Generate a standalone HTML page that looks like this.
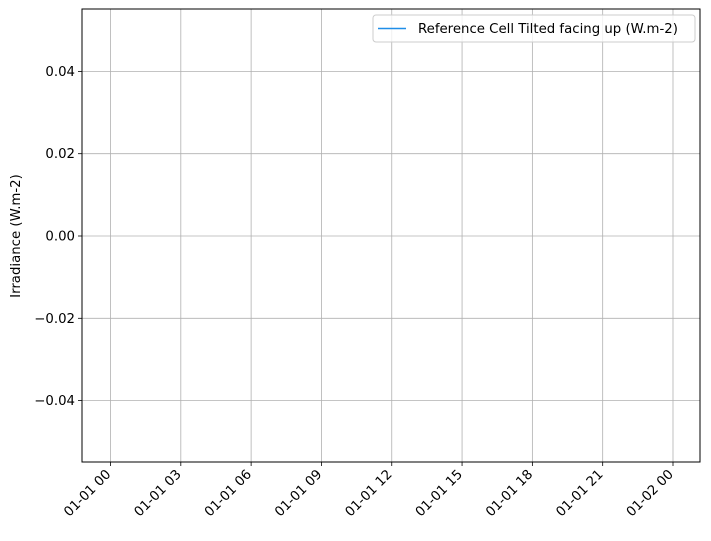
<!DOCTYPE html>
<html><head><meta charset="utf-8"><style>
html,body{margin:0;padding:0;background:#fff;}
svg text{font-family:"DejaVu Sans","Liberation Sans",sans-serif;font-size:13.3px;fill:#000;}
</style></head><body>
<svg id="chart" width="711" height="536" viewBox="0 0 711 536" xmlns="http://www.w3.org/2000/svg">
<rect width="711" height="536" fill="#fff"/>
<g id="grid"></g>
<g id="series"></g>
<rect x="82" y="9" width="618" height="453" fill="none" stroke="#000" stroke-width="1"/>
<g id="xaxis"></g>
<g id="yaxis"></g>
<text transform="translate(20,236) rotate(-90)" text-anchor="middle">Irradiance (W.m-2)</text>
<g>
<rect x="373" y="15" width="322" height="27" rx="3" fill="#fff" fill-opacity="0.8" stroke="#ccc"/>
<line x1="378" y1="28.5" x2="406" y2="28.5" stroke="#1f8ee8" stroke-width="1.5"/>
<text x="418" y="33">Reference Cell Tilted facing up (W.m-2)</text>
</g>
</svg>
<script>
const xTickLabels = ["01-01 00","01-01 03","01-01 06","01-01 09","01-01 12","01-01 15","01-01 18","01-01 21","01-02 00"];
const xTickHours = [0,3,6,9,12,15,18,21,24];
const yTickValues = [-0.04,-0.02,0,0.02,0.04];
const yTickLabels = ["\u22120.04","\u22120.02","0.00","0.02","0.04"];
const seriesHours = [];
const seriesValues = [];

const NS="http://www.w3.org/2000/svg";
function xScale(h){return 110.5 + (h-0)*(673-110.5)/24;}
function yScale(v){return 236 + (-v)*(82.3/0.02);}
function mk(tag,attrs,parent){const e=document.createElementNS(NS,tag);for(const k in attrs)e.setAttribute(k,attrs[k]);parent.appendChild(e);return e;}
const grid=document.getElementById('grid'),xa=document.getElementById('xaxis'),ya=document.getElementById('yaxis'),ser=document.getElementById('series');
xTickHours.forEach((h,i)=>{
  const x=xScale(h);
  const g=mk('line',{x1:x,x2:x,y1:9,y2:462,stroke:'#b0b0b0','stroke-width':0.8},grid);
  
  
  const t=mk('line',{x1:x,x2:x,y1:462,y2:466,stroke:'#000','stroke-width':0.8},xa);
  
  
  const l=mk('text',{'text-anchor':'end',transform:`translate(${x+1},${475}) rotate(-45)`},xa);
  l.textContent=xTickLabels[i];
  
  
});
yTickValues.forEach((v,i)=>{
  const y=yScale(v);
  const g=mk('line',{x1:82,x2:700,y1:y,y2:y,stroke:'#b0b0b0','stroke-width':0.8},grid);
  
  
  const t=mk('line',{x1:78,x2:82,y1:y,y2:y,stroke:'#000','stroke-width':0.8},ya);
  
  
  const l=mk('text',{x:75,y:y+4.5,'text-anchor':'end'},ya);
  l.textContent=yTickLabels[i];
  
  
});
if(seriesValues.length){
  const pts=seriesValues.map((v,i)=>xScale(seriesHours[i])+','+yScale(v)).join(' ');
  const p=mk('polyline',{points:pts,fill:'none',stroke:'#1f8ee8','stroke-width':1.5},ser);
  
  
}
</script>
</body></html>
